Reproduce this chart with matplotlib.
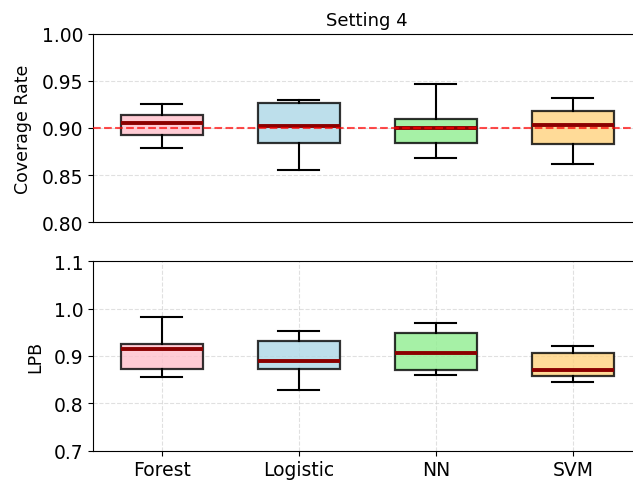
import matplotlib
matplotlib.use("Agg")
import matplotlib.pyplot as plt

models = ["Forest", "Logistic", "NN", "SVM"]
colors = ["pink", "lightblue", "lightgreen", "#FFD27F"]

# Coverage Rate box statistics
cov_whislo = [0.879, 0.855, 0.8685, 0.862]
cov_q1 = [0.8923, 0.8838, 0.8844, 0.883]
cov_med = [0.905, 0.902, 0.9003, 0.9035]
cov_q3 = [0.9138, 0.926, 0.9092, 0.9184]
cov_whishi = [0.9258, 0.9297, 0.9463, 0.9318]

# LPB box statistics
lpb_whislo = [0.855, 0.8284, 0.8594, 0.8453]
lpb_q1 = [0.8726, 0.8735, 0.8714, 0.8587]
lpb_med = [0.9156, 0.8895, 0.9063, 0.8714]
lpb_q3 = [0.9253, 0.9316, 0.9484, 0.9063]
lpb_whishi = [0.983, 0.9535, 0.970, 0.922]

target = 0.90

fig = plt.figure(figsize=(6.33, 4.85), dpi=100)
ax1 = fig.add_axes([0.1474, 0.5396, 0.8657, 0.3889])
ax2 = fig.add_axes([0.1474, 0.0687, 0.8657, 0.3905])


def make_stats(lo, q1, med, q3, hi):
    return [dict(whislo=a, q1=b, med=c, q3=d, whishi=e, fliers=[], label=m)
            for a, b, c, d, e, m in zip(lo, q1, med, q3, hi, models)]


def draw(ax, stats):
    bp = ax.bxp(stats, positions=range(1, len(models) + 1), widths=0.6,
                patch_artist=True, showfliers=False,
                boxprops=dict(linewidth=1.6, edgecolor="black"),
                medianprops=dict(color="darkred", linewidth=2.8),
                whiskerprops=dict(color="black", linewidth=1.5),
                capprops=dict(color="black", linewidth=1.5))
    for patch, c in zip(bp["boxes"], colors):
        patch.set_facecolor(c)
        patch.set_alpha(0.8)
    ax.set_xlim(0.5, 4.5)
    return bp


draw(ax1, make_stats(cov_whislo, cov_q1, cov_med, cov_q3, cov_whishi))
ax1.axhline(target, color="red", linestyle="--", alpha=0.7, linewidth=1.5, zorder=5)
ax1.set_ylim(0.80, 1.00)
ax1.set_yticks([0.80, 0.85, 0.90, 0.95, 1.00])
ax1.set_yticklabels(["0.80", "0.85", "0.90", "0.95", "1.00"])
ax1.set_ylabel("Coverage Rate", fontsize=12.5, labelpad=7)
ax1.set_title("Setting 4", fontsize=13)
ax1.grid(axis="y", linestyle="--", alpha=0.6, color="#cccccc")
ax1.set_axisbelow(True)
ax1.set_xticks([])
ax1.tick_params(axis="y", labelsize=13.5)

draw(ax2, make_stats(lpb_whislo, lpb_q1, lpb_med, lpb_q3, lpb_whishi))
ax2.set_ylim(0.7, 1.1)
ax2.set_yticks([0.7, 0.8, 0.9, 1.0, 1.1])
ax2.set_ylabel("LPB", fontsize=12.5, labelpad=7)
ax2.grid(True, linestyle="--", alpha=0.6, color="#cccccc")
ax2.set_axisbelow(True)
ax2.set_xticks(range(1, len(models) + 1))
ax2.set_xticklabels(models)
ax2.tick_params(labelsize=13.5)

fig.savefig("out.png", dpi=100)
